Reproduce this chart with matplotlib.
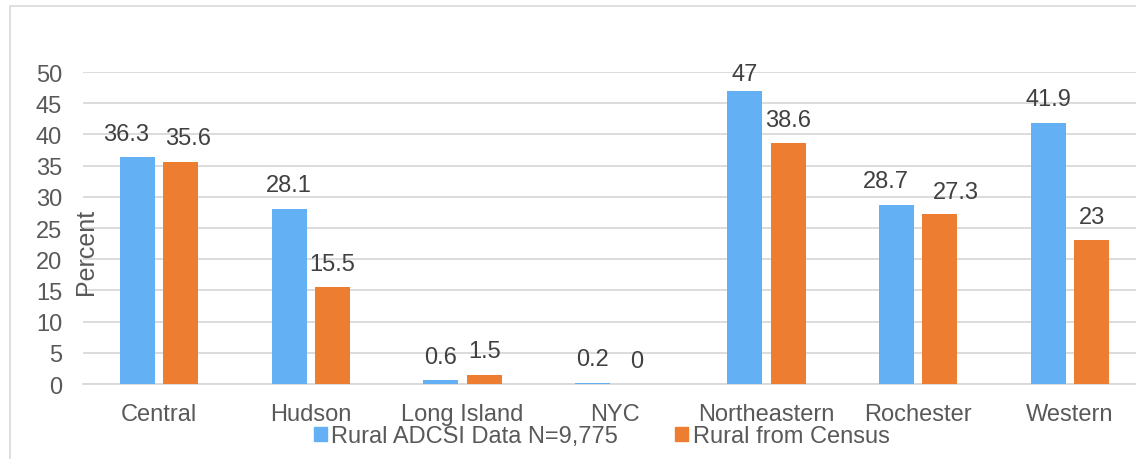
import numpy as np
import matplotlib
matplotlib.use("Agg")
import matplotlib.pyplot as plt
from matplotlib.patches import Rectangle
import matplotlib.transforms as mtransforms

plt.rcParams["font.family"] = ["Liberation Sans", "DejaVu Sans"]

regions = ["Central", "Hudson", "Long Island", "NYC", "Northeastern", "Rochester", "Western"]
adcsi = [36.3, 28.1, 0.6, 0.2, 47, 28.7, 41.9]
census = [35.6, 15.5, 1.5, 0, 38.6, 27.3, 23]
adcsi_labels = ["36.3", "28.1", "0.6", "0.2", "47", "28.7", "41.9"]
census_labels = ["35.6", "15.5", "1.5", "0", "38.6", "27.3", "23"]
series_names = ["Rural ADCSI Data N=9,775", "Rural from Census"]
yticks = [0, 5, 10, 15, 20, 25, 30, 35, 40, 45, 50]

# small sideways nudges (points) where the labels would collide
adcsi_nudge = [-8, 0, 0, 0, 0, -8, 0]
census_nudge = [5, 0, 0, 0, 0, 11.5, 0]
# the top label sits a bit closer to its bar
adcsi_lift = [9, 9, 9, 9, 4, 9, 9]
census_lift = [9, 9, 9, 9, 9, 8, 9]

blue = "#63B0F5"
orange = "#ED7D31"
grid_c = "#D9D9D9"
tick_c = "#595959"
label_c = "#404040"
fs = 17

W, H = 1136, 460
fig = plt.figure(figsize=(W / 100, H / 100), dpi=100)

# outer chart border (cropped at right/bottom like the source)
fig.patches.append(Rectangle((10 / W, -0.2), 1.2, 1.2 - 7 / H,
                             transform=fig.transFigure, fill=False,
                             edgecolor=grid_c, linewidth=1.2))

ax = fig.add_axes([83 / W, 1 - 385 / H, (1146 - 83) / W, (385 - 73) / H])

x = np.arange(len(regions))
bw = 0.23
off = 0.143
b1 = ax.bar(x - off, adcsi, bw, color=blue, label=series_names[0], zorder=3)
b2 = ax.bar(x + off, census, bw, color=orange, label=series_names[1], zorder=3)

for bars, labs, nud, lift in [(b1, adcsi_labels, adcsi_nudge, adcsi_lift),
                              (b2, census_labels, census_nudge, census_lift)]:
    for rect, lab, n, l in zip(bars, labs, nud, lift):
        ax.annotate(lab, (rect.get_x() + rect.get_width() / 2, rect.get_height()),
                    xytext=(n, l), textcoords="offset points",
                    ha="center", va="bottom", fontsize=fs, color=label_c,
                    annotation_clip=False)

ax.set_xlim(-0.5, len(regions) - 0.5)
ax.set_ylim(0, 50)
ax.set_yticks(yticks)
ax.set_xticks(x)
ax.set_xticklabels(regions)
ax.tick_params(axis="both", length=0, labelsize=fs, labelcolor=tick_c)
ax.tick_params(axis="y", pad=15)
ax.tick_params(axis="x", pad=14)
ax.yaxis.grid(True, color=grid_c, linewidth=1.3, zorder=0)
ax.set_axisbelow(True)
for s in ["top", "right", "left"]:
    ax.spines[s].set_visible(False)
ax.spines["bottom"].set_color(grid_c)
ax.spines["bottom"].set_linewidth(1.3)

trans = mtransforms.blended_transform_factory(ax.transAxes, ax.transData)
ax.text(3 / (1146 - 83), (385 - 252) / ((385 - 73) / 50), "Percent", transform=trans,
        rotation=90, ha="center", va="center", fontsize=fs + 1, color=tick_c)

handles = [Rectangle((0, 0), 1, 1, color=blue), Rectangle((0, 0), 1, 1, color=orange)]
fig.legend(handles, series_names, loc="center", bbox_to_anchor=(601.5 / W, 1 - 437 / H),
           ncol=2, frameon=False, fontsize=fs, labelcolor=tick_c,
           handlelength=0.55, handleheight=0.55, handletextpad=0.2,
           columnspacing=2.4, borderpad=0, borderaxespad=0)

fig.savefig("out.png", dpi=100)
